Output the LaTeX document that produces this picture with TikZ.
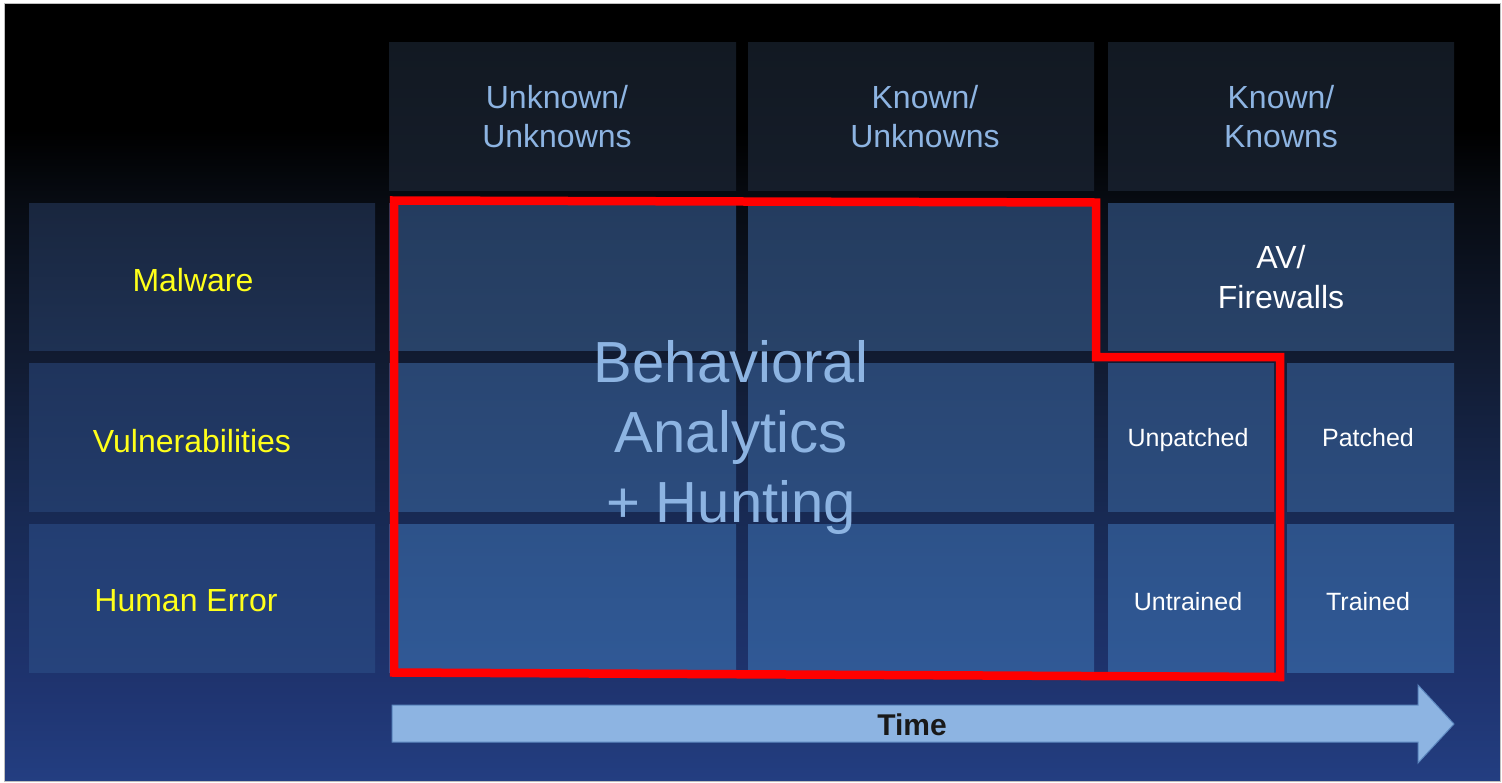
\documentclass[tikz,border=0pt]{standalone}
\usepackage{fontspec}
\setmainfont{Liberation Sans}
\definecolor{bgA}{HTML}{000000}
\definecolor{bgB}{HTML}{070B12}
\definecolor{bgC}{HTML}{111B31}
\definecolor{bgD}{HTML}{182A54}
\definecolor{bgE}{HTML}{1F3470}
\definecolor{bgF}{HTML}{233E81}
\definecolor{lblue}{HTML}{8DB4E2}
\definecolor{arrowedge}{HTML}{5B86BE}
\definecolor{hiyellow}{HTML}{FFFF1A}
\definecolor{headT}{HTML}{121922}
\definecolor{headB}{HTML}{151D2A}
\definecolor{leftAT}{RGB}{25,38,62}
\definecolor{leftAB}{RGB}{30,49,83}
\definecolor{leftBT}{RGB}{31,52,92}
\definecolor{leftBB}{RGB}{34,59,106}
\definecolor{leftCT}{RGB}{35,62,114}
\definecolor{leftCB}{RGB}{38,67,124}
\definecolor{gridAT}{RGB}{36,60,95}
\definecolor{gridAB}{RGB}{40,66,104}
\definecolor{gridBT}{RGB}{41,70,114}
\definecolor{gridBB}{RGB}{43,76,126}
\definecolor{gridCT}{RGB}{45,82,137}
\definecolor{gridCB}{RGB}{48,89,150}
\tikzset{
  cell/.style={inner sep=0pt, outer sep=0pt, draw=none, anchor=north west},
  headcell/.style={cell, top color=headT, bottom color=headB},
  leftA/.style={cell, top color=leftAT, bottom color=leftAB},
  leftB/.style={cell, top color=leftBT, bottom color=leftBB},
  leftC/.style={cell, top color=leftCT, bottom color=leftCB},
  gridA/.style={cell, top color=gridAT, bottom color=gridAB},
  gridB/.style={cell, top color=gridBT, bottom color=gridBB},
  gridC/.style={cell, top color=gridCT, bottom color=gridCB},
  % multi-line nodes sit on the baseline of their last line
  headtext/.style={text=lblue, align=center, anchor=base, inner sep=0pt, font=\fontsize{32pt}{39pt}\selectfont},
  rowtext/.style={text=hiyellow, anchor=base, inner sep=0pt, font=\fontsize{32pt}{39pt}\selectfont},
  bigtext/.style={text=white, align=center, anchor=base, inner sep=0pt, font=\fontsize{32pt}{40pt}\selectfont},
  smalltext/.style={text=white, anchor=base, inner sep=0pt, font=\fontsize{25pt}{30pt}\selectfont},
  centretext/.style={text=lblue, align=center, anchor=base, inner sep=0pt, font=\fontsize{58pt}{70pt}\selectfont},
  redline/.style={draw=red, line width=8.5pt, line join=miter},
}
\begin{document}
\begin{tikzpicture}[x=1pt, y=-1pt]
% page and slide frame
\fill[white] (0,0) rectangle (1502,782);
\useasboundingbox (0,0) rectangle (1502,782);
% slide background: black at the top fading into dark blue
\fill[bgA] (4,3) rectangle (1500,130);
\shade[top color=bgA, bottom color=bgB] (4,130) rectangle (1500,200.3);
\shade[top color=bgB, bottom color=bgC] (4,200) rectangle (1500,357.3);
\shade[top color=bgC, bottom color=bgD] (4,357) rectangle (1500,517.3);
\shade[top color=bgD, bottom color=bgE] (4,517) rectangle (1500,690.3);
\shade[top color=bgE, bottom color=bgF] (4,690) rectangle (1500,781);
\draw[black!25, line width=0.8pt] (4,3) rectangle (1500,781);

% column headers
\node[headcell, minimum width=347pt, minimum height=148pt] (hd1) at (389,42) {};
\node[headcell, minimum width=346pt, minimum height=148pt] (hd2) at (748,42) {};
\node[headcell, minimum width=346pt, minimum height=148pt] (hd3) at (1108,42) {};

% row headers
\node[leftA, minimum width=346pt, minimum height=147pt] (rh1) at (29,203) {};
\node[leftB, minimum width=346pt, minimum height=148pt] (rh2) at (29,363) {};
\node[leftC, minimum width=346pt, minimum height=148pt] (rh3) at (29,524) {};

% first row
\node[gridA, minimum width=347pt, minimum height=147pt] (a1) at (389,203) {};
\node[gridA, minimum width=346pt, minimum height=147pt] (b1) at (748,203) {};
\node[gridA, minimum width=346pt, minimum height=147pt] (c1) at (1108,203) {};
% second row
\node[gridB, minimum width=347pt, minimum height=148pt] (a2) at (389,363) {};
\node[gridB, minimum width=346pt, minimum height=148pt] (b2) at (748,363) {};
\node[gridB, minimum width=166pt, minimum height=148pt] (c2) at (1108,363) {};
\node[gridB, minimum width=167pt, minimum height=148pt] (d2) at (1287,363) {};
% third row
\node[gridC, minimum width=347pt, minimum height=148pt] (a3) at (389,524) {};
\node[gridC, minimum width=346pt, minimum height=148pt] (b3) at (748,524) {};
\node[gridC, minimum width=166pt, minimum height=148pt] (c3) at (1108,524) {};
\node[gridC, minimum width=167pt, minimum height=148pt] (d3) at (1287,524) {};

% header labels
\node[headtext] (hl1) at (557,147) {Unknown/\\Unknowns};
\node[headtext] (hl2) at (925,147) {Known/\\Unknowns};
\node[headtext] (hl3) at (1281,147) {Known/\\Knowns};

% row labels
\node[rowtext] (rl1) at (193,291) {Malware};
\node[rowtext] (rl2) at (192,452) {Vulnerabilities};
\node[rowtext] (rl3) at (186,611) {Human Error};

% known/known cells
\node[bigtext] (av) at (1281,308) {AV/\\Firewalls};
\node[smalltext] (unp) at (1188,446) {Unpatched};
\node[smalltext] (pat) at (1368,446) {Patched};
\node[smalltext] (unt) at (1188,610) {Untrained};
\node[smalltext] (tra) at (1368,610) {Trained};

% outline of the behavioral analytics region
\draw[redline] (394,200.5) -- (1096,202.5) -- (1096,357) -- (1280,357) -- (1280,677) -- (394,672.5) -- cycle;

\node[centretext] (ba) at (731,522) {Behavioral\\Analytics\\+ Hunting};

% time arrow
\draw[fill=lblue, draw=arrowedge, line width=1pt, line join=miter]
  (392,705) -- (1418,705) -- (1418,685) -- (1454,724) -- (1418,763) -- (1418,742) -- (392,742) -- cycle;
\node[anchor=base, inner sep=0pt, font=\fontsize{30pt}{36pt}\selectfont\bfseries, text=black!90] (time) at (912,735) {Time};
\end{tikzpicture}
\end{document}
